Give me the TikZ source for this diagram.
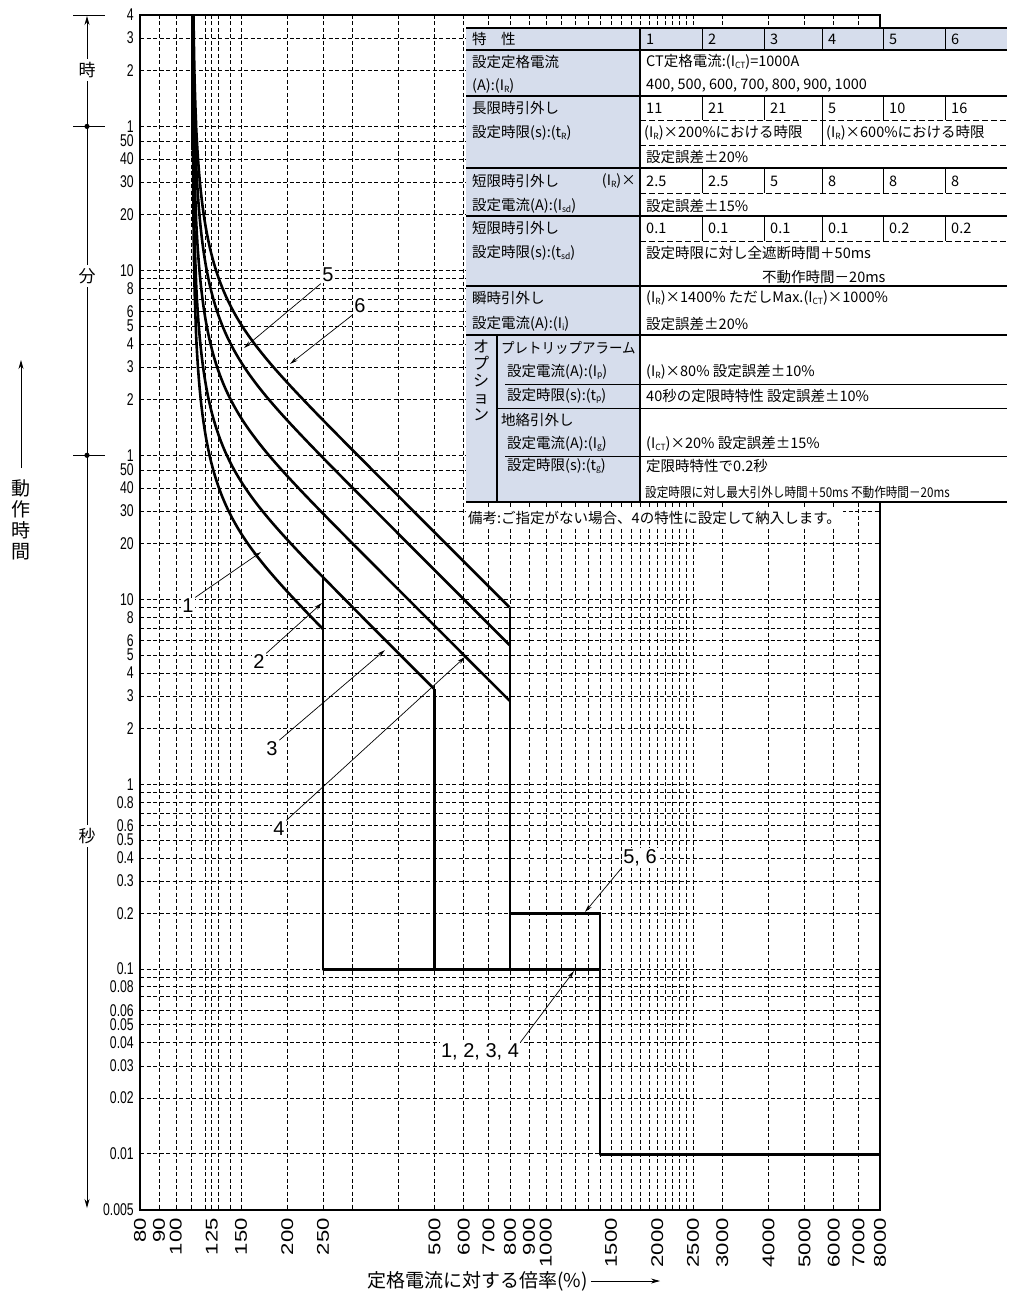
\documentclass[tikz,border=0pt]{standalone}
\usepackage{fontspec}
\setmainfont{Liberation Sans}
\newfontfamily\jp{Noto Sans CJK JP}
\usetikzlibrary{arrows.meta}
\tikzset{
  grid/.style={line width=0.7pt,dash pattern=on 4pt off 2.5pt},
  curve/.style={line width=2.6pt,line join=round},
  lbl/.style={fill=white,inner sep=1.5pt,font=\fontsize{20}{20}\selectfont},
  ptr/.style={line width=0.7pt,-{Stealth[length=8pt,width=4pt]}},
  tt/.style={anchor=west,inner sep=0pt,font=\jp\fontsize{14.5}{16}\selectfont},
  rowline/.style={line width=1.2pt},
  cellsep/.style={line width=0.8pt},
  celldash/.style={line width=0.8pt,dash pattern=on 6pt off 3pt},
  ytick/.style={anchor=east,inner sep=0pt},
}
\definecolor{tblue}{RGB}{214,221,236}
\newcommand{\yl}[1]{\scalebox{0.72}[1]{\fontsize{17}{17}\selectfont #1}}
\newcommand{\xl}[1]{\scalebox{1.3}[1]{\fontsize{17}{17}\selectfont #1}}
\newcommand{\sbs}[1]{\raisebox{-1.5pt}{\fontsize{8.5}{9}\selectfont #1}}
\begin{document}
\begin{tikzpicture}[x=1pt,y=-1pt,
  declare function={cx(\v)=140+370*log10(111*(1+10^\v)/80);
                    cy(\v,\c)=15+(4.158-\c+log10((1+10^\v)^2*(1-(1+10^\v)^(-6))))*185;}]
\useasboundingbox (0,0) rectangle (1024,1303);
% grid
\foreach \i in {90,100,110,120,125,130,140,150,200,250,300,400,500,600,700,800,900,1000,1100,1200,1300,1400,1500,1600,1700,1800,1900,2000,2100,2200,2300,2400,2500,3000,4000,5000,6000,7000}{
  \pgfmathsetmacro\xx{140+370*log10(\i/80)}
  \draw[grid] (\xx,15) -- (\xx,1210);
}
\foreach \t in {10800,7200,3600,3000,2400,1800,1200,600,540,480,420,360,300,240,180,120,60,50,40,30,20,10,9,8,7,6,5,4,3,2,1,0.9,0.8,0.7,0.6,0.5,0.4,0.3,0.2,0.1,0.09,0.08,0.07,0.06,0.05,0.04,0.03,0.02,0.01}{
  \pgfmathsetmacro\yy{15+(4.158-log10(\t))*185}
  \draw[grid] (140,\yy) -- (880,\yy);
}
% y labels
\foreach \t/\l in {14400/4,10800/3,7200/2,3600/1,3000/50,2400/40,1800/30,1200/20,600/10,480/8,360/6,300/5,240/4,180/3,120/2,60/1,50/50,40/40,30/30,20/20,10/10,8/8,6/6,5/5,4/4,3/3,2/2,1/1,0.8/0.8,0.6/0.6,0.5/0.5,0.4/0.4,0.3/0.3,0.2/0.2,0.1/0.1,0.08/0.08,0.06/0.06,0.05/0.05,0.04/0.04,0.03/0.03,0.02/0.02,0.01/0.01,0.005/0.005}{
  \pgfmathsetmacro\yy{15+(4.158-log10(\t))*185}
  \node[ytick] at (134,\yy) {\yl{\l}};
}
% x labels
\foreach \i in {80,90,100,125,150,200,250,500,600,700,800,900,1000,1500,2000,2500,3000,4000,5000,6000,7000,8000}{
  \pgfmathsetmacro\xx{140+370*log10(\i/80)}
  \node[rotate=90,anchor=east,inner sep=0pt] at (\xx,1218) {\xl{\i}};
}
% curves
\begin{scope}
\clip (140,15) rectangle (880,1210);
\draw[curve] (192.7,10) -- (192.7,150);
\draw[curve] plot[domain=-3.3:0.0977,samples=150,variable=\u] ({cx(\u)},{cy(\u,1.5400)});
\draw[curve] plot[domain=-3.3:0.5446,samples=170,variable=\u] ({cx(\u)},{cy(\u,1.8207)});
\draw[curve] plot[domain=-3.3:0.7929,samples=180,variable=\u] ({cx(\u)},{cy(\u,2.1646)});
\draw[curve] plot[domain=-3.3:0.7929,samples=180,variable=\u] ({cx(\u)},{cy(\u,2.4657)});
\draw[curve] plot[domain=-3.3:0.7929,samples=180,variable=\u] ({cx(\u)},{cy(\u,2.6698)});
\end{scope}
\draw[curve] (323.1,577) -- (323.1,969.2) -- (600,969.2);
\draw[curve] (434.5,689) -- (434.5,969.2);
\draw[curve] (510,608) -- (510,969.2);
\draw[curve] (510,913.6) -- (600,913.6) -- (600,1154.2) -- (880,1154.2);
% border
\draw[line width=2.6pt] (140,15) rectangle (880,1210);
% table
\fill[white] (640,50) rectangle (1007,502);
\fill[tblue] (466,28) rectangle (1007,50);
\fill[tblue] (466,50) rectangle (640,502);
\draw[line width=2pt] (466,28) -- (1007,28);
\draw[line width=2pt] (466,502) -- (1007,502);
\foreach \yy in {50,96,168,216,286,335} \draw[rowline] (466,\yy) -- (1007,\yy);
\draw[rowline] (640,28) -- (640,502);
\draw[rowline] (497,335) -- (497,502);
\foreach \xx in {702,764,822,883,945} {
  \draw[cellsep] (\xx,28) -- (\xx,50);
  \draw[cellsep] (\xx,96) -- (\xx,120);
  \draw[cellsep] (\xx,168) -- (\xx,193);
  \draw[cellsep] (\xx,216) -- (\xx,241);
}
\draw[cellsep] (822,120) -- (822,145);
\foreach \yy in {120,145,193,241} \draw[celldash] (640,\yy) -- (1007,\yy);
\draw[cellsep] (505,384) -- (1007,384);
\draw[cellsep] (497,408) -- (1007,408);
\draw[cellsep] (505,456) -- (1007,456);
% table text
\node[tt] (h0) at (472,39) {特　性};
\foreach \xx/\v [count=\k] in {640/1,702/2,764/3,822/4,883/5,945/6} \node[tt] (h\k) at (\xx+6,39) {\v};
\node[tt] (r1a) at (472,62) {設定定格電流};
\node[tt] (r1b) at (472,86) {(A):(I\sbs{R})};
\node[tt] (v1a) at (646,62) {CT定格電流:(I\sbs{CT})=1000A};
\node[tt] (v1b) at (646,86) {400, 500, 600, 700, 800, 900, 1000};
\node[tt] (r2a) at (472,108) {長限時引外し};
\node[tt] (r2b) at (472,133) {設定時限(s):(t\sbs{R})};
\foreach \xx/\v [count=\k] in {640/11,702/21,764/21,822/5,883/10,945/16} \node[tt] (a\k) at (\xx+6,108) {\v};
\node[tt] (v2b) at (644,133) {(I\sbs{R})×200\%における時限};
\node[tt] (v2c) at (826,133) {(I\sbs{R})×600\%における時限};
\node[tt] (v2d) at (646,157) {設定誤差±20\%};
\node[tt] (r3a) at (472,181) {短限時引外し};
\node[tt,anchor=east] (r3x) at (636,181) {(I\sbs{R})×};
\node[tt] (r3b) at (472,206) {設定電流(A):(I\sbs{sd})};
\foreach \xx/\v [count=\k] in {640/2.5,702/2.5,764/5,822/8,883/8,945/8} \node[tt] (b\k) at (\xx+6,181) {\v};
\node[tt] (v3b) at (646,206) {設定誤差±15\%};
\node[tt] (r4a) at (472,228) {短限時引外し};
\node[tt] (r4b) at (472,253) {設定時限(s):(t\sbs{sd})};
\foreach \xx/\v [count=\k] in {640/0.1,702/0.1,764/0.1,822/0.1,883/0.2,945/0.2} \node[tt] (c\k) at (\xx+6,228) {\v};
\node[tt] (v4b) at (646,253) {設定時限に対し全遮断時間＋50ms};
\node[tt] (v4c) at (762,277) {不動作時間－20ms};
\node[tt] (r5a) at (472,298) {瞬時引外し};
\node[tt] (r5b) at (472,324) {設定電流(A):(I\sbs{i})};
\node[tt] (v5a) at (646,298) {(I\sbs{R})×1400\% ただしMax.(I\sbs{CT})×1000\%};
\node[tt] (v5b) at (646,324) {設定誤差±20\%};
\node[font=\jp\fontsize{16}{17}\selectfont,align=center,inner sep=0pt,anchor=north] (opt) at (481,340) {オ\\プ\\シ\\ョ\\ン};
\node[tt] (o1) at (501,348) {\scalebox{0.93}[1]{プレトリップアラーム}};
\node[tt] (o2) at (507,372) {設定電流(A):(I\sbs{p})};
\node[tt] (o3) at (507,396) {設定時限(s):(t\sbs{p})};
\node[tt] (o4) at (501,420) {地絡引外し};
\node[tt] (o5) at (507,444) {設定電流(A):(I\sbs{g})};
\node[tt] (o6) at (507,466) {設定時限(s):(t\sbs{g})};
\node[tt] (w2) at (646,372) {(I\sbs{R})×80\% 設定誤差±10\%};
\node[tt] (w3) at (646,396) {40秒の定限時特性 設定誤差±10\%};
\node[tt] (w5) at (646,444) {(I\sbs{CT})×20\% 設定誤差±15\%};
\node[tt] (w6) at (646,466) {定限時特性で0.2秒};
\node[tt] (w7) at (645,492) {\scalebox{0.86}[1]{\fontsize{13.5}{14}\selectfont 設定時限に対し最大引外し時間＋50ms 不動作時間－20ms}};
\node[tt,fill=white,inner sep=2pt] (note) at (466,518) {備考:ご指定がない場合、4の特性に設定して納入します。};
% curve labels and pointers
\node[lbl] (n5) at (328,275) {5};
\node[lbl] (n6) at (360,306) {6};
\node[lbl] (n1) at (188,606) {1};
\node[lbl] (n2) at (259,662) {2};
\node[lbl] (n3) at (272,749) {3};
\node[lbl] (n4) at (279,829) {4};
\node[lbl] (n56) at (640,858) {5, 6};
\node[lbl] (n1234) at (480,1052) {1, 2, 3, 4};
\coordinate (p5) at (244,348);
\coordinate (p6) at (290,364);
\coordinate (p1) at (261,552);
\coordinate (p2) at (322,603);
\coordinate (p3) at (385,650);
\coordinate (p4) at (465,657);
\coordinate (p56) at (585,912);
\coordinate (p1234) at (574,971);
\draw[ptr] (n5.south west) -- (p5);
\draw[ptr] (n6.south west) -- (p6);
\draw[ptr] (n1.north east) -- (p1);
\draw[ptr] (n2.north east) -- (p2);
\draw[ptr] (n3.north east) -- (p3);
\draw[ptr] (n4.north east) -- (p4);
\draw[ptr] (n56.south west) -- (p56);
\draw[ptr] (n1234.north east) -- (p1234);
% left time axis
\draw[line width=0.8pt,{Stealth[length=9pt,width=5pt]}-{Stealth[length=9pt,width=5pt]}] (87,16) -- (87,1208);
\draw[line width=0.8pt] (73,15) -- (105,15);
\draw[line width=0.8pt] (73,126.4) -- (105,126.4);
\draw[line width=0.8pt] (73,455.3) -- (105,455.3);
\fill (87,126.4) circle (2.6pt);
\fill (87,455.3) circle (2.6pt);
\node[fill=white,inner sep=3pt,font=\jp\fontsize{17}{17}\selectfont] (hr) at (87,70) {時};
\node[fill=white,inner sep=3pt,font=\jp\fontsize{17}{17}\selectfont] (mn) at (87,276) {分};
\node[fill=white,inner sep=3pt,font=\jp\fontsize{17}{17}\selectfont] (sc) at (87,836) {秒};
\node[font=\jp\fontsize{19}{21}\selectfont,align=center,inner sep=0pt,anchor=north] (ttl) at (21,480) {動\\作\\時\\間};
\coordinate (ttop) at (21,360);
\draw[line width=0.8pt,-{Stealth[length=9pt,width=5pt]}] (ttl.north) ++(0,-12) -- (ttop);
% x title
\node[font=\jp\fontsize{19}{20}\selectfont,anchor=east,inner sep=0pt] (xt) at (588,1281) {定格電流に対する倍率(\%)};
\coordinate (xend) at (660,1281);
\draw[line width=0.8pt,-{Stealth[length=9pt,width=5pt]}] (xt.east) ++(3,0) -- (xend);
\end{tikzpicture}
\end{document}
